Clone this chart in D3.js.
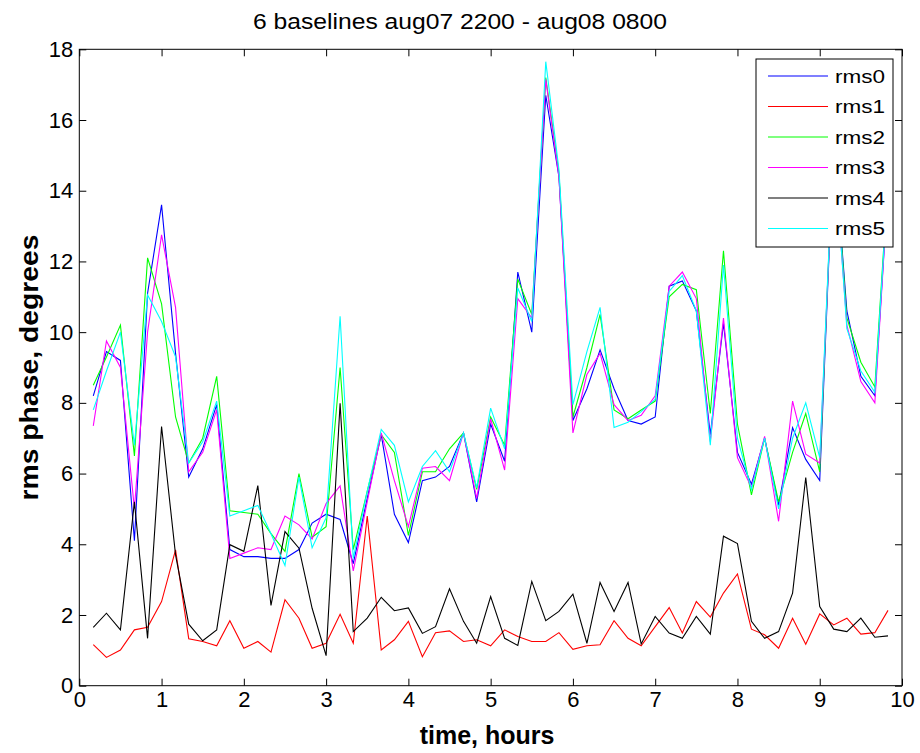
<!DOCTYPE html>
<html>
<head>
<meta charset="utf-8">
<script src="https://cdn.jsdelivr.net/npm/d3@7"></script>
<style>
  html, body { margin: 0; padding: 0; background: #fff; }
  svg { display: block; font-family: "Liberation Sans", Arial, sans-serif; }
</style>
</head>
<body>
<svg id="chart" width="920" height="753"></svg>
<script>
// ---- data ----
const times = [0.17,0.33,0.50,0.67,0.83,1.00,1.17,1.33,1.50,1.67,1.83,2.00,2.17,2.33,2.50,2.67,2.83,3.00,3.17,3.33,
  3.50,3.67,3.83,4.00,4.17,4.33,4.50,4.67,4.83,5.00,5.17,5.33,5.50,5.67,5.83,6.00,6.17,6.33,6.50,6.67,
  6.83,7.00,7.17,7.33,7.50,7.67,7.83,8.00,8.17,8.33,8.50,8.67,8.83,9.00,9.17,9.33,9.50,9.67,9.83];

const rms0 = [8.2,9.45,9.2,4.1,11.1,13.6,9.4,5.9,6.7,7.95,3.85,3.65,3.65,3.6,3.6,3.85,4.6,4.85,4.7,3.45,
  5.3,7.1,4.85,4.05,5.8,5.9,6.2,7.15,5.2,7.4,6.35,11.7,10.0,16.7,14.4,7.5,8.4,9.5,8.4,7.5,
  7.4,7.6,11.3,11.45,10.6,7.1,10.25,6.6,5.7,7.0,5.1,7.3,6.4,5.8,15.4,10.6,8.75,8.2,14.1];
const rms1 = [1.16,0.80,1.01,1.58,1.65,2.38,3.84,1.33,1.25,1.13,1.84,1.06,1.25,0.95,2.43,1.91,1.06,1.20,2.02,1.20,
  4.8,1.01,1.30,1.82,0.82,1.50,1.55,1.25,1.30,1.13,1.58,1.39,1.25,1.25,1.50,1.03,1.13,1.16,1.84,1.34,
  1.13,1.67,2.21,1.49,2.38,1.94,2.62,3.16,1.60,1.44,1.06,1.91,1.17,2.03,1.72,1.91,1.46,1.50,2.13];
const rms2 = [8.5,9.3,10.2,6.5,12.1,10.8,7.6,6.3,7.0,8.75,4.95,4.9,4.85,4.3,3.8,6.0,4.2,4.5,9.0,3.85,
  5.5,7.1,6.6,4.25,6.05,6.05,6.7,7.15,5.55,7.6,6.8,11.5,10.5,17.2,14.5,7.6,9.0,10.5,7.8,7.55,
  7.8,8.05,11.0,11.35,11.2,7.7,12.3,7.4,5.4,7.0,5.2,6.6,7.7,6.05,15.5,10.4,9.15,8.45,14.3];
const rms3 = [7.35,9.75,9.0,5.0,10.0,12.75,10.7,6.05,6.6,7.8,3.6,3.75,3.9,3.85,4.8,4.55,4.15,5.15,5.65,3.25,
  5.2,7.15,5.8,4.5,6.15,6.2,5.8,7.15,5.3,7.55,6.1,10.95,10.4,17.15,14.4,7.15,8.8,9.4,7.95,7.5,
  7.65,8.2,11.3,11.7,10.95,6.9,10.4,6.45,5.6,7.05,4.65,8.05,6.55,6.3,15.3,10.2,8.6,8.0,14.1];
const rms4 = [1.65,2.05,1.58,5.2,1.34,7.33,3.70,1.74,1.27,1.58,3.99,3.80,5.66,2.27,4.36,3.89,2.19,0.85,7.99,1.53,
  1.91,2.50,2.12,2.2,1.48,1.67,2.74,1.82,1.20,2.52,1.34,1.14,2.95,1.84,2.10,2.59,1.20,2.92,2.10,2.92,
  1.18,1.96,1.49,1.34,1.96,1.46,4.23,4.02,1.82,1.34,1.53,2.62,5.89,2.24,1.60,1.53,1.91,1.37,1.41];
const rms5 = [7.8,8.9,10.0,6.8,11.05,10.3,9.3,6.3,6.9,8.05,4.8,4.95,5.1,4.3,3.4,5.9,3.9,4.75,10.45,3.6,
  5.5,7.25,6.8,5.2,6.2,6.65,6.05,7.15,5.6,7.85,6.7,11.25,10.3,17.65,14.6,7.95,9.45,10.7,7.3,7.45,
  7.75,8.1,11.15,11.6,10.6,6.8,11.9,7.0,5.55,7.0,5.0,7.0,8.0,6.45,15.4,10.1,8.9,8.3,14.2];

const seriesNames = ["rms0","rms1","rms2","rms3","rms4","rms5"];
const seriesValues = [rms0, rms1, rms2, rms3, rms4, rms5];
const seriesColors = ["#0000ff","#ff0000","#00ff00","#ff00ff","#000000","#00ffff"];
const xTicks = [0,1,2,3,4,5,6,7,8,9,10];
const yTicks = [0,2,4,6,8,10,12,14,16,18];
const titleText = "6 baselines aug07 2200 - aug08 0800";
const xLabel = "time, hours";
const yLabel = "rms phase, degrees";

// ---- layout ----
const svg = d3.select("#chart");
const L = 79.3, R = 902, T = 49.3, B = 685.7;
const x = d3.scaleLinear().domain([0, 10]).range([L, R]);
const y = d3.scaleLinear().domain([0, 18]).range([B, T]);
const tickLen = 7;

// lines
const line = d3.line().x((d, i) => x(times[i])).y(d => y(d));
const gLines = svg.append("g");
seriesValues.forEach((vals, si) => {
  gLines.append("path")
    .datum(vals)
    .attr("d", line)
    .attr("fill", "none")
    .attr("stroke", seriesColors[si])
    .attr("stroke-width", 1.1)
    .attr("stroke-linejoin", "miter");
});

// axes
const fs = 22;
const axB = svg.append("g").attr("transform", `translate(0,${B})`)
  .call(d3.axisBottom(x).tickValues(xTicks).tickFormat(d3.format("d")).tickSizeInner(-tickLen).tickSizeOuter(0).tickPadding(6));
const axT = svg.append("g").attr("transform", `translate(0,${T})`)
  .call(d3.axisTop(x).tickValues(xTicks).tickFormat("").tickSizeInner(-tickLen).tickSizeOuter(0));
const axL = svg.append("g").attr("transform", `translate(${L},0)`)
  .call(d3.axisLeft(y).tickValues(yTicks).tickFormat(d3.format("d")).tickSizeInner(-tickLen).tickSizeOuter(0).tickPadding(6));
const axR = svg.append("g").attr("transform", `translate(${R},0)`)
  .call(d3.axisRight(y).tickValues(yTicks).tickFormat("").tickSizeInner(-tickLen).tickSizeOuter(0));
[axB, axT, axL, axR].forEach(a => {
  a.select(".domain").remove();
  a.selectAll("line").attr("stroke", "#000").attr("stroke-width", 1);
  a.selectAll("text").attr("font-size", fs).attr("fill", "#000")
    .attr("font-family", "'Liberation Sans', Arial, sans-serif");
});

// box
svg.append("rect").attr("x", L).attr("y", T).attr("width", R - L).attr("height", B - T)
  .attr("fill", "none").attr("stroke", "#000").attr("stroke-width", 1);

// title & labels
svg.append("text").attr("x", 460).attr("y", 29)
  .attr("text-anchor", "middle").attr("font-size", 22).attr("fill", "#000")
  .attr("textLength", 414).attr("lengthAdjust", "spacingAndGlyphs")
  .text(titleText);
svg.append("text").attr("x", 487).attr("y", 744)
  .attr("text-anchor", "middle").attr("font-size", 25).attr("font-weight", "bold").attr("fill", "#000")
  .text(xLabel);
svg.append("text").attr("transform", `translate(38,${(T + B) / 2}) rotate(-90)`)
  .attr("text-anchor", "middle").attr("font-size", 25).attr("font-weight", "bold").attr("fill", "#000")
  .attr("textLength", 266).attr("lengthAdjust", "spacingAndGlyphs")
  .text(yLabel);

// legend
const lg = svg.append("g");
const lgX = 756, lgY = 59, lgW = 137, lgH = 188;
lg.append("rect").attr("x", lgX).attr("y", lgY).attr("width", lgW).attr("height", lgH)
  .attr("fill", "#fff").attr("stroke", "#000").attr("stroke-width", 1);
seriesNames.forEach((nm, i) => {
  const ry = 76 + i * 30.5;
  lg.append("line").attr("x1", 768).attr("x2", 828).attr("y1", ry).attr("y2", ry)
    .attr("stroke", seriesColors[i]).attr("stroke-width", 1.1);
  lg.append("text").attr("x", 835).attr("y", ry).attr("dy", "0.36em")
    .attr("font-size", 19).attr("fill", "#000")
    .attr("textLength", 50).attr("lengthAdjust", "spacingAndGlyphs")
    .text(nm);
});
</script>
</body>
</html>
